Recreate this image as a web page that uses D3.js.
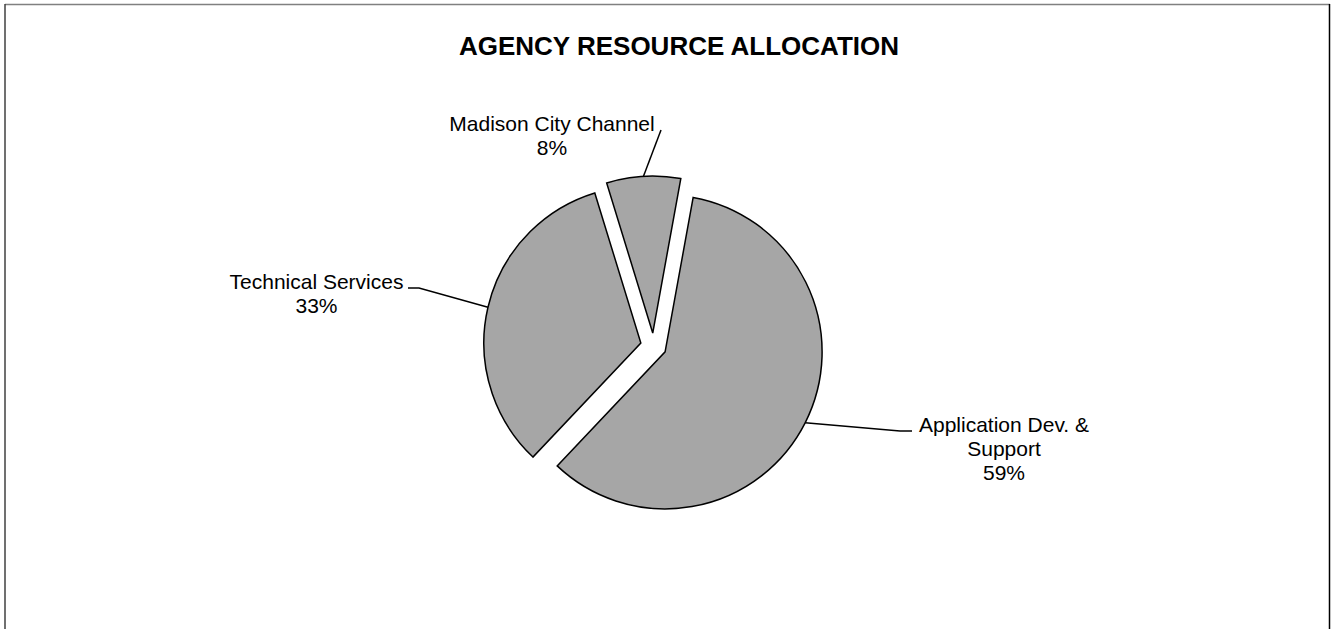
<!DOCTYPE html>
<html lang="en">
<head>
<meta charset="utf-8">
<title>Agency Resource Allocation</title>
<script src="https://d3js.org/d3.v7.min.js"></script>
<style>
  body { margin: 0; background: #fff; }
  text { font-family: Arial, "Liberation Sans", sans-serif; fill: #000; }
</style>
</head>
<body>
<div id="chart"></div>
<script>
// data
var categories = ["Application Dev. & Support", "Technical Services", "Madison City Channel"];
var shares = [59.2, 33.2, 7.6];
// label lines as printed in the chart
var labelLines = [["Application Dev. &", "Support"], ["Technical Services"], ["Madison City Channel"]];

var width = 1331, height = 629;
var cx = 653.5, cy = 346, radius = 157, explode = 13;

var svg = d3.select("#chart").append("svg")
    .attr("width", width)
    .attr("height", height);

// frame
svg.append("line").attr("x1", 5).attr("y1", 4.5).attr("x2", 1330).attr("y2", 4.5)
    .attr("stroke", "#808080").attr("stroke-width", 1.5);
svg.append("line").attr("x1", 5).attr("y1", 4).attr("x2", 5).attr("y2", height)
    .attr("stroke", "#404040").attr("stroke-width", 1.5);
svg.append("line").attr("x1", 1329.5).attr("y1", 4).attr("x2", 1329.5).attr("y2", height)
    .attr("stroke", "#000").attr("stroke-width", 1.5);

// title
svg.append("text")
    .attr("x", 679)
    .attr("y", 55)
    .attr("text-anchor", "middle")
    .style("font-size", "26px")
    .style("font-weight", "bold")
    .text("AGENCY RESOURCE ALLOCATION");

var data = categories.map(function(c, i) {
    return { name: c, value: shares[i], lines: labelLines[i] };
});

var total = d3.sum(shares);

var pie = d3.pie()
    .sort(null)
    .value(function(d) { return d.value; })
    .startAngle(10.3 * Math.PI / 180)
    .endAngle(10.3 * Math.PI / 180 + 2 * Math.PI);

var arc = d3.arc().innerRadius(0).outerRadius(radius);

var arcs = pie(data);

function offset(d) {
    var a = (d.startAngle + d.endAngle) / 2;
    return [cx + explode * Math.sin(a), cy - explode * Math.cos(a)];
}

svg.append("g")
    .selectAll("path")
    .data(arcs)
    .enter()
    .append("path")
    .attr("transform", function(d) { var o = offset(d); return "translate(" + o[0] + "," + o[1] + ")"; })
    .attr("d", arc)
    .style("fill", "#a6a6a6")
    .style("stroke", "#000")
    .style("stroke-width", 1.5)
    .style("stroke-linejoin", "miter");

// label layout (where each label sits and how its leader bends)
var labelLayout = [
    { x: 1004, y: 432, bend: [[900, 431], [912, 431]] },
    { x: 316.5, y: 289, bend: [[419, 288], [408, 288]] },
    { x: 552, y: 131, bend: [[661, 130]] }
];

arcs.forEach(function(d, i) {
    var o = offset(d);
    var a = (d.startAngle + d.endAngle) / 2;
    var start = [o[0] + radius * Math.sin(a), o[1] - radius * Math.cos(a)];
    var pts = [start].concat(labelLayout[i].bend);

    svg.append("path")
        .attr("d", d3.line()(pts))
        .attr("fill", "none")
        .attr("stroke", "#000")
        .attr("stroke-width", 1.5);

    var lines = d.data.lines.concat([Math.round(d.data.value / total * 100) + "%"]);
    var t = svg.append("text")
        .attr("text-anchor", "middle")
        .style("font-size", "21px");
    lines.forEach(function(l, k) {
        t.append("tspan")
            .attr("x", labelLayout[i].x)
            .attr("y", labelLayout[i].y + k * 24)
            .text(l);
    });
});
</script>
</body>
</html>
